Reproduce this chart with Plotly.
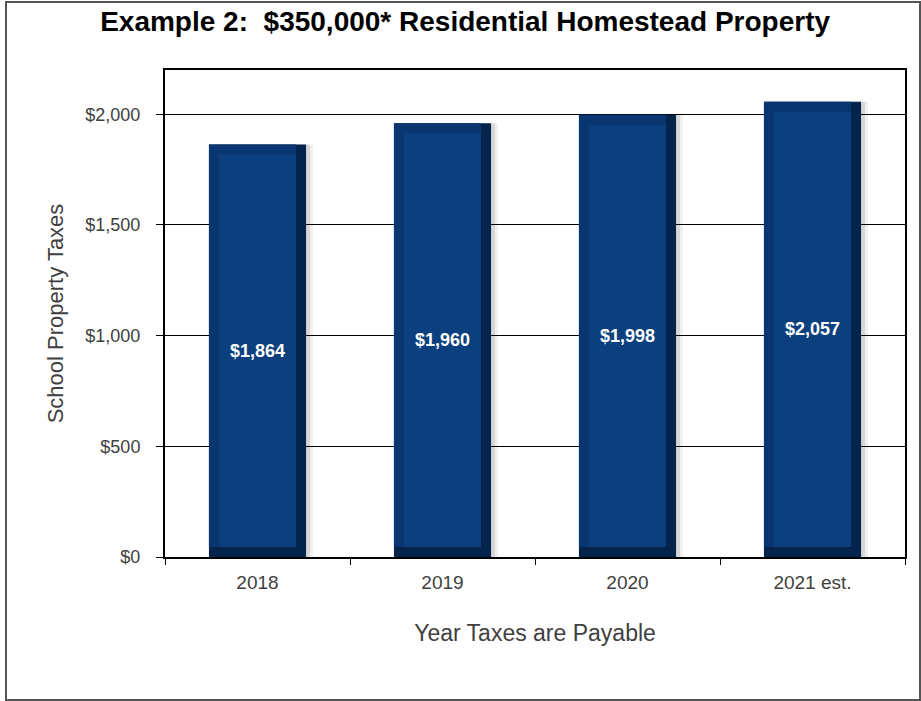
import plotly.graph_objects as go

categories = ["2018", "2019", "2020", "2021 est."]
taxes = [1864, 1960, 1998, 2057]
labels = ["$1,864", "$1,960", "$1,998", "$2,057"]

title_text = "Example 2:  $350,000* Residential Homestead Property"
x_title = "Year Taxes are Payable"
y_title = "School Property Taxes"

W, H = 921, 701
L, R, T, B = 165, 16, 70, 144
plot_w = W - L - R
plot_h = H - T - B
y_max = 2200
px_x = 4 / plot_w          # one pixel in category units
px_y = y_max / plot_h      # one pixel in data units

bar_w = 0.525
bevel = 10

FONT = "Liberation Sans, Arial, sans-serif"

fig = go.Figure()

# soft shadow
for k, a in [(7, 0.06), (4, 0.10)]:
    fig.add_bar(x=categories, y=taxes, width=bar_w, offset=-bar_w / 2 + k * px_x,
                marker=dict(color=f"rgba(0,0,0,{a})", line=dict(width=0)),
                hoverinfo="skip", showlegend=False)

# dark right / bottom bevel
fig.add_bar(x=categories, y=taxes, width=bar_w, offset=-bar_w / 2,
            marker=dict(color="#05244c", line=dict(width=0)),
            hoverinfo="skip", showlegend=False)

# medium left / top bevel
fig.add_bar(x=categories, y=[v - bevel * px_y for v in taxes], base=bevel * px_y,
            width=bar_w - bevel * px_x, offset=-bar_w / 2,
            marker=dict(color="#093670", line=dict(width=0)),
            hoverinfo="skip", showlegend=False)

# face
fig.add_bar(x=categories, y=[v - 2 * bevel * px_y for v in taxes], base=bevel * px_y,
            width=bar_w - 2 * bevel * px_x, offset=-bar_w / 2 + bevel * px_x,
            marker=dict(color="#0b3f7e", line=dict(width=0)),
            text=[f"<b>{t}</b>" for t in labels], textposition="inside",
            insidetextanchor="middle",
            textfont=dict(color="white", size=18, family=FONT),
            hoverinfo="skip", showlegend=False)

fig.update_layout(
    width=W, height=H,
    margin=dict(l=L, r=R, t=T, b=B),
    paper_bgcolor="white", plot_bgcolor="white",
    barmode="overlay",
    title=dict(text=f"<b>{title_text}</b>", x=0.505, xanchor="center",
               y=1 - 21 / H, yanchor="middle",
               font=dict(family=FONT, size=28, color="black")),
    xaxis=dict(showline=True, linecolor="black", linewidth=2, mirror=True,
               ticks="outside", tickson="boundaries", ticklen=6, tickcolor="black",
               ticklabelstandoff=7,
               tickfont=dict(family=FONT, size=19, color="#404040"),
               title=dict(text=x_title, font=dict(family=FONT, size=23, color="#404040"),
                          standoff=33),
               showgrid=False),
    yaxis=dict(range=[0, y_max], tickvals=[0, 500, 1000, 1500, 2000],
               tickformat="$,", showline=True, linecolor="black", linewidth=2, mirror=True,
               ticks="outside", ticklen=7, tickcolor="black", ticklabelstandoff=12,
               tickfont=dict(family=FONT, size=18, color="#404040"),
               showgrid=True, gridcolor="black", gridwidth=1,
               title=dict(text=y_title, font=dict(family=FONT, size=22, color="#404040"),
                          standoff=16)),
    uniformtext=dict(minsize=18, mode="show"),
    shapes=[dict(type="rect", xref="paper", yref="paper",
                 x0=(6 - L) / plot_w, x1=(W - 1 - L) / plot_w,
                 y0=-(H - 1 - T - plot_h) / plot_h, y1=1 + (T - 2) / plot_h,
                 line=dict(color="#555555", width=2), layer="below")],
)

fig.write_html("out.html")
